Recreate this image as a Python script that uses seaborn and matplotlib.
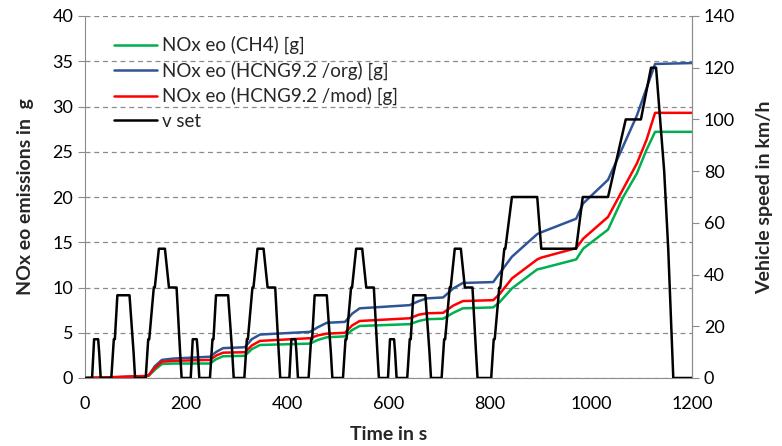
import numpy as np
import pandas as pd
import seaborn as sns
import matplotlib
matplotlib.use("Agg")
import matplotlib.pyplot as plt

# NEDC set speed, breakpoints (time in s, speed in km/h)
speed_t = [0,
           14, 18, 26, 28, 31, 52, 57, 59, 64, 88, 96, 99,
           120, 125, 127, 136, 138, 146, 158, 166, 179, 181, 188, 191,
           209, 213, 221, 223, 226, 247, 252, 254, 259, 283, 291, 294,
           315, 320, 322, 331, 333, 341, 353, 361, 374, 376, 383, 386,
           404, 408, 416, 418, 421, 442, 447, 449, 454, 478, 486, 489,
           510, 515, 517, 526, 528, 536, 548, 556, 569, 571, 578, 581,
           599, 603, 611, 613, 616, 637, 642, 644, 649, 673, 681, 684,
           705, 710, 712, 721, 723, 731, 743, 751, 764, 766, 773, 776,
           803, 808, 810, 819, 821, 829, 831, 844, 894, 902, 971, 984,
           1034, 1069, 1099, 1119, 1129, 1145, 1153, 1163, 1200]
speed_v = [0,
           0, 15, 15, 10, 0, 0, 15, 15, 32, 32, 10, 0,
           0, 15, 15, 35, 35, 50, 50, 35, 35, 35, 10, 0,
           0, 15, 15, 10, 0, 0, 15, 15, 32, 32, 10, 0,
           0, 15, 15, 35, 35, 50, 50, 35, 35, 35, 10, 0,
           0, 15, 15, 10, 0, 0, 15, 15, 32, 32, 10, 0,
           0, 15, 15, 35, 35, 50, 50, 35, 35, 35, 10, 0,
           0, 15, 15, 10, 0, 0, 15, 15, 32, 32, 10, 0,
           0, 15, 15, 35, 35, 50, 50, 35, 35, 35, 10, 0,
           0, 15, 15, 35, 35, 50, 50, 70, 70, 50, 50, 70,
           70, 100, 100, 120, 120, 80, 50, 0, 0]

# cumulative NOx engine-out, g
nox_t = [0, 30, 120, 126, 138, 152, 175,
         247, 260, 273, 316, 330, 346, 445, 460, 478,
         514, 528, 543, 642, 660, 676, 708, 728, 747,
         807, 820, 844, 894, 902, 971, 985,
         1034, 1063, 1091, 1110, 1127, 1200]
nox_ch4 = [0, 0.02, 0.18, 0.25, 0.9, 1.55, 1.6,
           1.6, 2.1, 2.4, 2.45, 3.2, 3.65, 3.8, 4.2, 4.5,
           4.6, 5.3, 5.75, 5.95, 6.3, 6.5, 6.55, 7.2, 7.7,
           7.8, 8.4, 9.9, 12.0, 12.1, 13.1, 14.3,
           16.4, 19.9, 22.6, 25.2, 27.2, 27.2]
nox_org = [0, 0.02, 0.2, 0.3, 1.3, 2.0, 2.15,
           2.35, 2.9, 3.3, 3.4, 4.3, 4.8, 5.1, 5.6, 6.1,
           6.2, 7.1, 7.7, 8.05, 8.5, 8.8, 8.9, 9.9, 10.5,
           10.6, 11.6, 13.4, 15.9, 16.1, 17.6, 19.3,
           21.9, 25.5, 29.0, 32.0, 34.7, 34.8]
nox_mod = [0, 0.05, 0.22, 0.3, 1.1, 1.8, 1.9,
           2.0, 2.5, 2.8, 2.85, 3.6, 4.1, 4.4, 4.7, 4.9,
           5.0, 5.8, 6.3, 6.6, 7.0, 7.15, 7.2, 8.0, 8.5,
           8.6, 9.3, 11.0, 13.1, 13.3, 14.35, 15.4,
           17.8, 20.8, 23.7, 26.3, 29.3, 29.3]

labels = ["NOx eo (CH4) [g]", "NOx eo (HCNG9.2 /org) [g]",
          "NOx eo (HCNG9.2 /mod) [g]", "v set"]
colors = ["#00B050", "#2F5597", "#FF0000", "#000000"]

sns.set_style("white")
plt.rcParams['font.family'] = ['Lato', 'DejaVu Sans']

nox = pd.DataFrame({"t": nox_t, labels[0]: nox_ch4, labels[1]: nox_org, labels[2]: nox_mod})
spd = pd.DataFrame({"t": speed_t, "v": speed_v})

fig = plt.figure(figsize=(7.82, 4.46), dpi=100)
ax = fig.add_axes([85/782, 1 - 378/446, 607/782, 362/446])
ax2 = ax.twinx()

for i in range(3):
    sns.lineplot(data=nox, x="t", y=labels[i], ax=ax, color=colors[i], lw=1.8, label=labels[i], legend=False)
sns.lineplot(data=spd, x="t", y="v", ax=ax2, color=colors[3], lw=1.8, label=labels[3], legend=False)

ax.set_xlim(0, 1200)
ax.set_ylim(0, 40)
ax2.set_ylim(0, 140)
ax.set_xticks(range(0, 1201, 200))
ax.set_yticks(range(0, 41, 5))
ax2.set_yticks(range(0, 141, 20))
ax.yaxis.grid(True, ls=(0, (4, 3)), color="#8c8c8c", lw=0.9)
ax.set_axisbelow(True)

gray = "#8c8c8c"
for a in (ax, ax2):
    a.spines["top"].set_visible(False)
    for s in ("left", "right", "bottom"):
        a.spines[s].set_color(gray)
    a.tick_params(colors=gray, labelcolor="black", labelsize=13, length=5, direction="out")
ax.tick_params(axis="x", pad=8)
ax2.spines["left"].set_visible(False)
ax2.spines["bottom"].set_visible(False)

ax.set_xlabel("Time in s", fontsize=14, fontweight="bold", labelpad=10)
ax.set_ylabel("NOx eo emissions in  g", fontsize=14, fontweight="bold", labelpad=13)
ax2.set_ylabel("Vehicle speed in km/h", fontsize=14, fontweight="bold", labelpad=15)

h1, l1 = ax.get_legend_handles_labels()
h2, l2 = ax2.get_legend_handles_labels()
ax2.legend(h1 + h2, l1 + l2, loc="upper left", bbox_to_anchor=(0.035, 0.965),
           frameon=False, fontsize=13.5, handlelength=2.3, handletextpad=0.25,
           labelspacing=0.38, borderaxespad=0)

fig.savefig("out.png", dpi=100)
